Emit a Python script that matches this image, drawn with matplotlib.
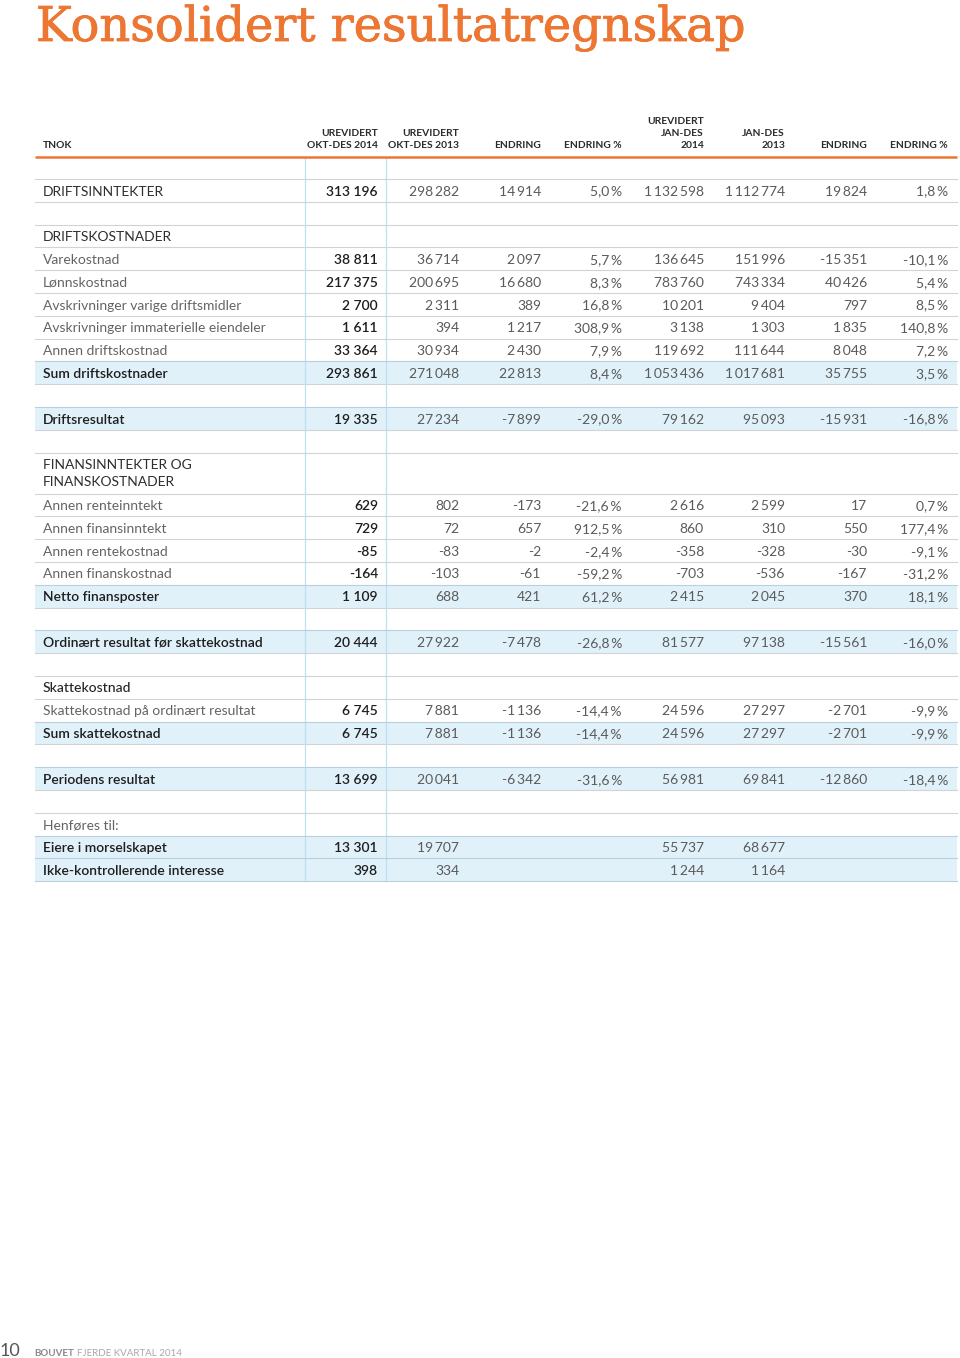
import matplotlib
matplotlib.use("Agg")
import matplotlib.pyplot as plt
import matplotlib.patheffects as pe

# ---------------- data ----------------
title = "Konsolidert resultatregnskap"
col_headers = [
    ["UREVIDERT", "OKT-DES 2014"],
    ["UREVIDERT", "OKT-DES 2013"],
    ["ENDRING"],
    ["ENDRING %"],
    ["UREVIDERT", "JAN-DES", "2014"],
    ["JAN-DES", "2013"],
    ["ENDRING"],
    ["ENDRING %"],
]
row_labels = [
    "DRIFTSINNTEKTER", "",
    "DRIFTSKOSTNADER", "Varekostnad", "Lønnskostnad",
    "Avskrivninger varige driftsmidler", "Avskrivninger immaterielle eiendeler",
    "Annen driftskostnad", "Sum driftskostnader", "",
    "Driftsresultat", "",
    "FINANSINNTEKTER OG\nFINANSKOSTNADER", "Annen renteinntekt",
    "Annen finansinntekt", "Annen rentekostnad", "Annen finanskostnad",
    "Netto finansposter", "",
    "Ordinært resultat før skattekostnad", "",
    "Skattekostnad", "Skattekostnad på ordinært resultat", "Sum skattekostnad", "",
    "Periodens resultat", "",
    "Henføres til:", "Eiere i morselskapet", "Ikke-kontrollerende interesse",
]
# kinds: sec = section header, det = detail, tot = highlighted total, sub = sub header, blank
row_kinds = [
    "sec", "blank",
    "sec", "det", "det", "det", "det", "det", "tot", "blank",
    "tot", "blank",
    "sec2", "det", "det", "det", "det", "tot", "blank",
    "tot", "blank",
    "sub", "det", "tot", "blank",
    "tot", "blank",
    "det", "tot", "tot",
]
N = None
okt_des_2014 = [313196, N, N, 38811, 217375, 2700, 1611, 33364, 293861, N, 19335, N,
                N, 629, 729, -85, -164, 1109, N, 20444, N, N, 6745, 6745, N, 13699, N, N, 13301, 398]
okt_des_2013 = [298282, N, N, 36714, 200695, 2311, 394, 30934, 271048, N, 27234, N,
                N, 802, 72, -83, -103, 688, N, 27922, N, N, 7881, 7881, N, 20041, N, N, 19707, 334]
endring_q = [14914, N, N, 2097, 16680, 389, 1217, 2430, 22813, N, -7899, N,
             N, -173, 657, -2, -61, 421, N, -7478, N, N, -1136, -1136, N, -6342, N, N, N, N]
endring_q_pct = [5.0, N, N, 5.7, 8.3, 16.8, 308.9, 7.9, 8.4, N, -29.0, N,
                 N, -21.6, 912.5, -2.4, -59.2, 61.2, N, -26.8, N, N, -14.4, -14.4, N, -31.6, N, N, N, N]
jan_des_2014 = [1132598, N, N, 136645, 783760, 10201, 3138, 119692, 1053436, N, 79162, N,
                N, 2616, 860, -358, -703, 2415, N, 81577, N, N, 24596, 24596, N, 56981, N, N, 55737, 1244]
jan_des_2013 = [1112774, N, N, 151996, 743334, 9404, 1303, 111644, 1017681, N, 95093, N,
                N, 2599, 310, -328, -536, 2045, N, 97138, N, N, 27297, 27297, N, 69841, N, N, 68677, 1164]
endring_y = [19824, N, N, -15351, 40426, 797, 1835, 8048, 35755, N, -15931, N,
             N, 17, 550, -30, -167, 370, N, -15561, N, N, -2701, -2701, N, -12860, N, N, N, N]
endring_y_pct = [1.8, N, N, -10.1, 5.4, 8.5, 140.8, 7.2, 3.5, N, -16.8, N,
                 N, 0.7, 177.4, -9.1, -31.2, 18.1, N, -16.0, N, N, -9.9, -9.9, N, -18.4, N, N, N, N]
columns = [okt_des_2014, okt_des_2013, endring_q, endring_q_pct,
           jan_des_2014, jan_des_2013, endring_y, endring_y_pct]
is_pct = [False, False, False, True, False, False, False, True]
footer_page = "10"
footer_brand = "BOUVET"
footer_text = "FJERDE KVARTAL 2014"

# ---------------- style ----------------
ORANGE = "#ec7632"
HL = "#e0f1fa"
VLINE = "#bfe0ef"
HLINE = "#cfd4d7"
FAM = ["Lato", "DejaVu Sans"]
col_right = [378, 459, 541, 622, 704, 785, 867, 948]
X0, X1 = 35, 957
TOP = 179
RH = 22.8
RH2 = 41

def fmt_num(v, sep):
    s = f"{abs(v):,}".replace(",", sep)
    return ("-" if v < 0 else "") + s

def fmt_pct(v):
    s = f"{v:.1f}".replace(".", ",")
    return s + "\u2009%"

fig = plt.figure(figsize=(9.6, 13.58), dpi=100)
ax = fig.add_axes([0, 0, 1, 1])
ax.set_xlim(0, 960)
ax.set_ylim(1358, 0)
ax.axis("off")

# title, fitted to width
t = ax.text(36, 41, title, family="DejaVu Serif", color=ORANGE, fontsize=40,
            va="baseline", ha="left",
            path_effects=[pe.withStroke(linewidth=0.6, foreground=ORANGE)])
fig.canvas.draw()
bb = t.get_window_extent()
t.set_fontsize(40 * 708 / bb.width)

# header
hdr_kw = dict(family=FAM, weight="bold", fontsize=7.4, color="#2b2b2b", va="baseline")
ax.text(43, 148, "TNOK", ha="left", **hdr_kw)
for xr, lines in zip(col_right, col_headers):
    for k, line in enumerate(reversed(lines)):
        ax.text(xr, 148 - 12 * k, line, ha="right", **hdr_kw)
ax.plot([X0, X1], [156.5, 156.5], color=ORANGE, lw=1.8, solid_capstyle="butt")

# rows
y = TOP
tops = []
for kind in row_kinds:
    h = RH2 if kind == "sec2" else RH
    tops.append((y, h))
    y += h
bottom = y

for i, (label, kind) in enumerate(zip(row_labels, row_kinds)):
    yt, h = tops[i]
    if kind == "tot":
        ax.add_patch(plt.Rectangle((X0, yt), X1 - X0, h, color=HL, lw=0, zorder=0))

# vertical lines
for xv in (305, 386):
    ax.plot([xv, xv], [157.5, bottom], color=VLINE, lw=0.9, zorder=1)

# horizontal lines
for i, kind in enumerate(row_kinds):
    yt, h = tops[i]
    c = "#b9cfdc" if kind == "tot" else HLINE
    ax.plot([X0, X1], [yt, yt], color=c, lw=0.8, zorder=2)
ax.plot([X0, X1], [bottom, bottom], color="#b9cfdc", lw=0.8, zorder=2)

label_style = {
    "sec": dict(weight="normal", color="#2e2e2e"),
    "sec2": dict(weight="normal", color="#2e2e2e"),
    "det": dict(weight="normal", color="#646464"),
    "tot": dict(weight="semibold", color="#1e1e1e"),
    "sub": dict(weight="medium", color="#252525"),
}
FS = 10
for i, (label, kind) in enumerate(zip(row_labels, row_kinds)):
    if kind == "blank":
        continue
    yt, h = tops[i]
    if kind == "sec2":
        lines = label.split("\n")
        for k, ln in enumerate(lines):
            ax.text(43, yt + 16 + 17 * k, ln, family=FAM, fontsize=FS, va="baseline",
                    ha="left", zorder=3, **label_style[kind])
    else:
        ax.text(43, yt + 16.5, label, family=FAM, fontsize=FS, va="baseline",
                ha="left", zorder=3, **label_style[kind])
    for j, col in enumerate(columns):
        v = col[i]
        if v is None:
            continue
        if is_pct[j]:
            s = fmt_pct(v)
        else:
            s = fmt_num(v, " " if j == 0 else "\u2009")
        if j == 0:
            st = dict(weight="semibold", color="#1e1e1e")
        else:
            st = dict(weight="normal", color="#5a5a5a")
        ax.text(col_right[j], yt + 16.5, s, family=FAM, fontsize=FS, va="baseline",
                ha="right", zorder=3, **st)

# footer
ax.text(0, 1356, footer_page, family=FAM, weight="normal", fontsize=13,
        color="#555555", va="baseline", ha="left")
tb = ax.text(34, 1356, footer_brand, family=FAM, weight="bold", fontsize=7,
             color="#8a8a8a", va="baseline", ha="left")
fig.canvas.draw()
bbb = tb.get_window_extent()
ax.text(bbb.x1 + 3, 1356, footer_text, family=FAM, weight="normal", fontsize=7,
        color="#a8a8a8", va="baseline", ha="left")

fig.savefig("out.png", dpi=100)
